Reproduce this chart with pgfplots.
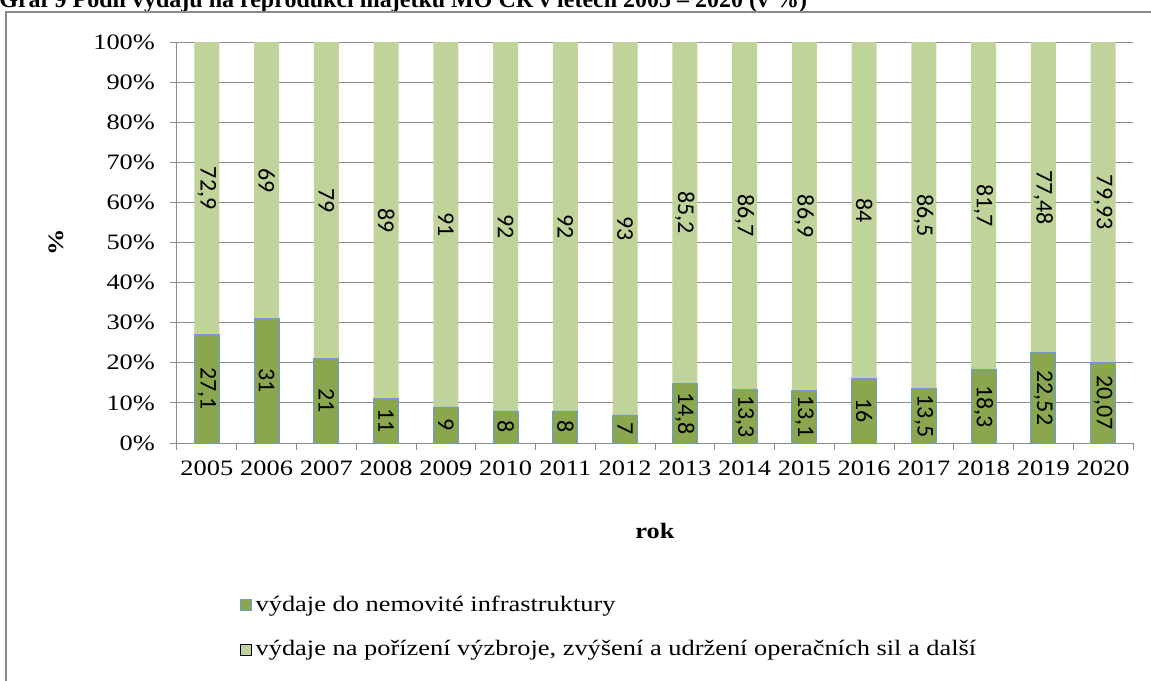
\documentclass[border=0pt]{standalone}
\usepackage{fontspec}
\setmainfont{Liberation Serif}[FakeStretch=1.2]
\newfontfamily\titlefont{Liberation Serif}
\newfontfamily\lab{Carlito}
\usepackage{pgfplots}
\usepackage{pgfplotstable}
\pgfplotsset{compat=1.18}
\definecolor{dkg}{HTML}{8AA64E}
\definecolor{ltg}{HTML}{BFD39A}
\definecolor{brd}{HTML}{6F9BD4}
\definecolor{grd}{HTML}{8C8C8C}
\definecolor{frm}{HTML}{8A8A8A}
\pgfplotstableread{
x a la b lb
0 27.1 27,1 72.9 72,9
1 31 31 69 69
2 21 21 79 79
3 11 11 89 89
4 9 9 91 91
5 8 8 92 92
6 8 8 92 92
7 7 7 93 93
8 14.8 14,8 85.2 85,2
9 13.3 13,3 86.7 86,7
10 13.1 13,1 86.9 86,9
11 16 16 84 84
12 13.5 13,5 86.5 86,5
13 18.3 18,3 81.7 81,7
14 22.52 22,52 77.48 77,48
15 20.07 20,07 79.93 79,93
}\data
\pgfplotsset{
  common/.style={
    at={(88.5pt,-221.5pt)}, anchor=south west,
    scale only axis, width=478pt, height=200.5pt,
    xmin=-0.5, xmax=15.5, ymin=0, ymax=100,
  },
  lbl/.style={draw=none, mark=none, forget plot,
    nodes near coords, point meta=explicit symbolic,
    every node near coord/.append style={font=\lab\fontsize{12}{12}\selectfont, text=black, rotate=-90, anchor=center, inner sep=0pt}},
}
\begin{document}
\begin{tikzpicture}
\path[use as bounding box, clip] (0pt,0pt) rectangle (575.5pt,-340pt);
\node[anchor=base west, inner sep=0pt, font=\titlefont\bfseries\fontsize{12}{14}\selectfont] at (-0.5pt,-3.5pt) {Graf 9 Podíl výdajů na reprodukci majetku MO ČR v letech 2005 – 2020 (v \%)};
\draw[frm, line width=1pt] (3pt,-6pt) rectangle (620pt,-400pt);
\begin{axis}[
  common,
  ybar stacked, bar width=12.5pt,
  xtick={0,...,15},
  xticklabels={2005,2006,2007,2008,2009,2010,2011,2012,2013,2014,2015,2016,2017,2018,2019,2020},
  minor xtick={-0.5,0.5,...,15.5},
  major x tick style={draw=none},
  ytick={0,10,...,100},
  yticklabels={0\%,10\%,20\%,30\%,40\%,50\%,60\%,70\%,80\%,90\%,100\%},
  separate axis lines,
  axis x line=bottom, axis y line=left,
  axis line style={-, grd, line width=0.5pt},
  tick align=outside, major tick length=3.5pt, minor tick length=3.5pt,
  tick style={grd, line width=0.5pt},
  ymajorgrids, grid style={grd, line width=0.5pt},
  ticklabel style={font=\fontsize{11}{13}\selectfont},
  xticklabel style={yshift=-2pt},
  yticklabel style={xshift=-4pt},
  /pgf/number format/assume math mode=true,
  xlabel={rok}, ylabel={\%},
  xlabel style={font=\bfseries\fontsize{11}{13}\selectfont, at={(axis description cs:0.5,-0.237)}, anchor=base},
  ylabel style={font=\bfseries\fontsize{11}{13}\selectfont, at={(axis description cs:-0.1266,0.5)}, anchor=center, rotate=0},
  legend image code/.code={\draw[#1] (0pt,-2.75pt) rectangle (5.5pt,2.75pt);},
  legend style={at={(axis description cs:0.059,-0.36)}, anchor=north west, draw=none, fill=none,
    font=\fontsize{11}{13}\selectfont, row sep=9pt, legend cell align=left,
    /tikz/every even column/.append style={column sep=1pt}},
]
\addplot[fill=dkg, draw=brd, line width=0.4pt]
  table[x=x, y=a] {\data};
\addlegendentry{výdaje do nemovité infrastruktury}
\addplot[fill=ltg, draw=none]
  table[x=x, y=b] {\data};
\addlegendentry{výdaje na pořízení výzbroje, zvýšení a udržení operačních sil a další}
\end{axis}
\begin{axis}[common, hide axis]
\addplot[lbl] table[x=x, y expr=\thisrow{a}/2, meta=la] {\data};
\addplot[lbl] table[x=x, y expr=\thisrow{a}+\thisrow{b}/2, meta=lb] {\data};
\end{axis}
\end{tikzpicture}
\end{document}
